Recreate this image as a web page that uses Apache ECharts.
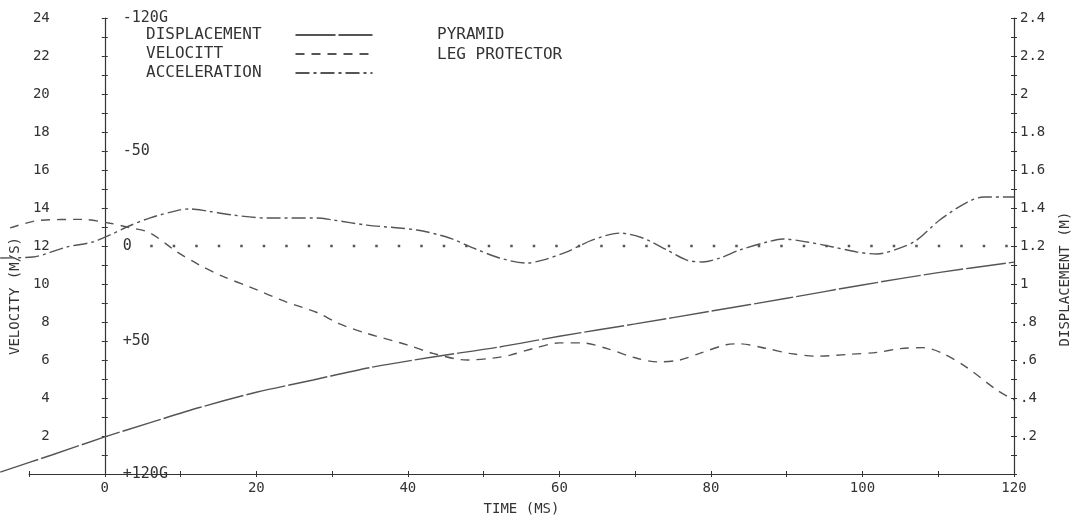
<!DOCTYPE html>
<html>
<head>
<meta charset="utf-8">
<script src="https://cdn.jsdelivr.net/npm/echarts@6/dist/echarts.min.js"></script>
<style>
  html, body { margin: 0; padding: 0; background: #fff; }
  #chart { width: 1074px; height: 520px; }
</style>
</head>
<body>
<div id="chart"></div>
<script>
// time in ms
const dispTime = [-13.8, -7, 0, 6, 12.5, 20, 27.5, 35, 43.3, 52, 60, 70, 80, 90, 100, 110, 120];
const dispValue = [0.01, 0.10, 0.195, 0.27, 0.35, 0.43, 0.495, 0.56, 0.616, 0.668, 0.725, 0.79, 0.857, 0.925, 0.995, 1.06, 1.115];

const velTime = [-12.5, -8.6, -3, 0.7, 2.9, 5.9, 9.5, 12.5, 15.6, 19.1, 24, 28, 31, 34.6, 39.9, 43.3, 47.8, 51.2, 53.5, 56.5, 60, 63, 66.3, 69.7, 72.9, 75.9, 78.5, 82, 83.8, 87.4, 90.4, 94, 98.3, 101.9, 105, 108, 110.6, 113.8, 117.8, 120];
const velValue = [12.95, 13.35, 13.4, 13.2, 13.0, 12.7, 11.7, 11.0, 10.4, 9.85, 9.05, 8.5, 7.9, 7.4, 6.8, 6.35, 6.0, 6.1, 6.26, 6.6, 6.9, 6.9, 6.6, 6.15, 5.9, 6.0, 6.35, 6.8, 6.85, 6.6, 6.35, 6.2, 6.3, 6.4, 6.6, 6.65, 6.35, 5.6, 4.4, 3.9];

const accTime = [-13.8, -9.5, -5, -1.6, 0.7, 2.9, 5.9, 9.9, 11.2, 13.5, 16.9, 21.4, 28, 30.1, 34.6, 41.2, 45.5, 48.6, 52.1, 55.7, 57.8, 60.9, 64.4, 68, 71, 74.2, 76.8, 78.9, 81.2, 83.8, 87.4, 89.5, 92.7, 96.1, 99.3, 101.9, 105, 107.2, 110.2, 113.8, 116, 120];
const accValue = [6.3, 5.8, 0.5, -2.1, -5.8, -10, -14.7, -19, -19.5, -18.4, -16.3, -14.7, -14.7, -13.7, -11, -8.4, -4.2, 1, 6.3, 9, 7.4, 3.2, -3.2, -6.8, -4.2, 2.1, 7.4, 8.4, 6.3, 2.1, -2.1, -3.7, -2.1, 0.5, 3.2, 4.2, 1, -3.2, -13.7, -23, -25.8, -25.8];

// zero-G reference (dotted)
const zeroTime = [6, 120];
const zeroValue = [0, 0];

const accLabels = [-120, -50, 0, 50, 120];
const seriesNames = ['DISPLACEMENT', 'VELOCITT', 'ACCELERATION'];
const titleLines = ['PYRAMID', 'LEG PROTECTOR'];

const FONT = 'DejaVu Sans Mono';
const INK = '#333';
const PEN = '#555';

const W = 1074;
const GRID = { left: 29, right: 60, top: 18, bottom: 46 };
const X_MIN = -10, X_MAX = 120;
const plotW = W - GRID.left - GRID.right;
// left axes sit on t = 0, not at the grid edge
const zeroOffset = -plotW * (0 - X_MIN) / (X_MAX - X_MIN);
// curves run on past the axis start, to the page edge: a second, hidden grid with the same scale
const DATA_GRID = { left: 0, right: GRID.right, top: GRID.top, bottom: GRID.bottom };
const dataMin = X_MAX - (W - GRID.right) * (X_MAX - X_MIN) / plotW;

function pairs(xs, ys) {
  return xs.map((x, i) => [x, ys[i]]);
}

function hiddenAxis(extra) {
  return Object.assign({ type: 'value', gridIndex: 1, show: false, splitLine: { show: false } }, extra);
}

const chart = echarts.init(document.getElementById('chart'));

const baseX = {
  type: 'value', position: 'bottom', min: X_MIN, max: X_MAX, interval: 10,
  splitLine: { show: false },
  axisLine: { onZero: false, lineStyle: { color: INK, width: 1.2 } }
};

chart.setOption({
  animation: false,
  backgroundColor: '#fff',
  textStyle: { fontFamily: FONT, color: INK },
  title: {
    text: titleLines.join('\n'),
    left: 437, top: 25, padding: 0,
    textStyle: { fontFamily: FONT, fontSize: 16, fontWeight: 'normal', color: INK, lineHeight: 20 }
  },
  legend: {
    data: seriesNames,
    orient: 'vertical',
    left: 146, top: 27, padding: 0,
    align: 'right',
    itemWidth: 77, itemHeight: 14, itemGap: 3,
    selectedMode: false,
    itemStyle: { opacity: 0 },
    formatter: name => name.padEnd(15),
    textStyle: { fontFamily: FONT, fontSize: 16, color: INK, lineHeight: 16 }
  },
  grid: [
    Object.assign({ outerBoundsMode: 'none', containLabel: false }, GRID),
    Object.assign({ outerBoundsMode: 'none', containLabel: false }, DATA_GRID)
  ],
  xAxis: [
    Object.assign({}, baseX, {
      name: 'TIME (MS)',
      nameLocation: 'middle',
      nameGap: 28,
      nameTextStyle: { fontFamily: FONT, fontSize: 14, color: INK },
      axisTick: { length: 3, lineStyle: { color: INK } },
      axisLabel: {
        fontFamily: FONT, fontSize: 14, color: INK, margin: 7,
        formatter: v => (v >= 0 && v % 20 === 0) ? String(v) : ''
      }
    }),
    Object.assign({}, baseX, {
      axisLine: { show: false, onZero: false },
      axisTick: { inside: true, length: 3, lineStyle: { color: INK } },
      axisLabel: { show: false }
    }),
    hiddenAxis({ min: dataMin, max: X_MAX })
  ],
  yAxis: [
    {
      type: 'value', position: 'left', offset: zeroOffset, min: 0, max: 24, interval: 2,
      name: 'VELOCITY (M/S)',
      nameLocation: 'middle', nameGap: 80, nameRotate: 90,
      nameTextStyle: { fontFamily: FONT, fontSize: 14, color: INK, padding: [0, 100, 0, 0] },
      splitLine: { show: false },
      axisLine: { show: true, onZero: false, lineStyle: { color: INK, width: 1.2 } },
      axisTick: { length: 3, lineStyle: { color: INK } },
      minorTick: { show: true, splitNumber: 2, length: 3, lineStyle: { color: INK } },
      axisLabel: {
        fontFamily: FONT, fontSize: 14, color: INK, margin: 55,
        formatter: v => v === 0 ? '' : String(v)
      }
    },
    {
      type: 'value', position: 'left', offset: zeroOffset, min: -120, max: 120, interval: 10, inverse: true,
      splitLine: { show: false },
      axisLine: { show: false, onZero: false },
      axisTick: { inside: true, length: 3, lineStyle: { color: INK } },
      axisLabel: {
        inside: true, margin: 18,
        fontFamily: FONT, fontSize: 15, color: INK,
        customValues: accLabels,
        formatter: v => {
          if (v === 0) return '0';
          let s = v > 0 ? '+' + v : String(v);
          if (Math.abs(v) === 120) s += 'G';
          return s;
        }
      }
    },
    {
      type: 'value', position: 'right', min: 0, max: 2.4, interval: 0.2,
      name: 'DISPLACEMENT (M)',
      nameLocation: 'middle', nameGap: 44, nameRotate: 90,
      nameTextStyle: { fontFamily: FONT, fontSize: 14, color: INK, padding: [0, 66, 0, 0] },
      splitLine: { show: false },
      axisLine: { show: true, onZero: false, lineStyle: { color: INK, width: 1.2 } },
      axisTick: { length: 3, lineStyle: { color: INK } },
      minorTick: { show: true, splitNumber: 2, length: 3, lineStyle: { color: INK } },
      axisLabel: {
        fontFamily: FONT, fontSize: 14, color: INK, margin: 6,
        formatter: v => v === 0 ? '' : String(+v.toFixed(1)).replace(/^0\./, '.')
      }
    },
    {
      type: 'value', position: 'right', min: 0, max: 2.4, interval: 0.1,
      splitLine: { show: false },
      axisLine: { show: false, onZero: false },
      axisTick: { inside: true, length: 3, lineStyle: { color: INK } },
      axisLabel: { show: false }
    },
    hiddenAxis({ min: 0, max: 24 }),
    hiddenAxis({ min: -120, max: 120, inverse: true }),
    hiddenAxis({ min: 0, max: 2.4 })
  ],
  series: [
    {
      name: seriesNames[0], type: 'line', xAxisIndex: 2, yAxisIndex: 6,
      data: pairs(dispTime, dispValue),
      smooth: 0.3, symbol: 'none',
      lineStyle: { color: PEN, width: 1.4, type: [40, 3] },
      itemStyle: { color: PEN }
    },
    {
      name: seriesNames[1], type: 'line', xAxisIndex: 2, yAxisIndex: 4,
      data: pairs(velTime, velValue),
      smooth: 0.3, symbol: 'none',
      lineStyle: { color: PEN, width: 1.4, type: [9, 7] },
      itemStyle: { color: PEN }
    },
    {
      name: seriesNames[2], type: 'line', xAxisIndex: 2, yAxisIndex: 5,
      data: pairs(accTime, accValue),
      smooth: 0.3, symbol: 'none',
      lineStyle: { color: PEN, width: 1.4, type: [14, 4, 3, 4] },
      itemStyle: { color: PEN }
    },
    {
      name: 'ZERO', type: 'line', xAxisIndex: 2, yAxisIndex: 5,
      data: pairs(zeroTime, zeroValue),
      symbol: 'none',
      lineStyle: { color: PEN, width: 2.5, type: [2.5, 20] }
    }
  ]
});

window.addEventListener('resize', function () {
  chart.resize();
});
</script>
</body>
</html>
